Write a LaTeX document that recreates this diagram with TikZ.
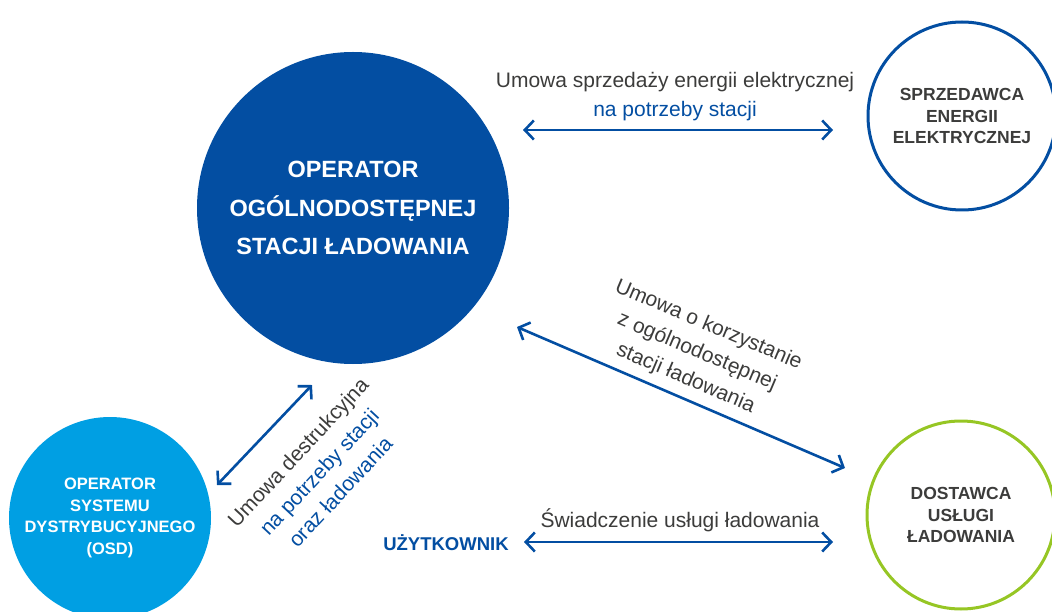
\documentclass[tikz,border=0pt]{standalone}
\usepackage{fontspec}
\setmainfont{Liberation Sans}
\usetikzlibrary{arrows.meta}
\definecolor{dblue}{RGB}{3,78,162}
\definecolor{lblue}{RGB}{0,159,227}
\definecolor{lgreen}{RGB}{150,198,36}
\definecolor{tgray}{RGB}{60,60,59}
\tikzset{
  >={Straight Barb[length=9pt,width=19pt]},
  conn/.style={draw=dblue, line width=2.6pt, <->},
  lbl/.style={align=center, text=tgray, inner sep=0pt, font=\fontsize{21}{29}\selectfont},
  bigtxt/.style={align=center, font=\bfseries\fontsize{23.5}{38.5}\selectfont},
  smalltxt/.style={align=center, font=\bfseries\fontsize{16.5}{21.5}\selectfont},
  ringtxt/.style={align=center, font=\bfseries\fontsize{17.5}{21.5}\selectfont},
  ring/.style={circle, inner sep=0pt, line width=3pt, text=tgray, ringtxt},
}
\begin{document}
\begin{tikzpicture}[x=1pt,y=-1pt]
\useasboundingbox (0,0) rectangle (1052,612);
\clip (0,0) rectangle (1052,612);

% circles
\node[circle, fill=dblue, minimum size=312pt, inner sep=0pt, text=white, bigtxt] (osl) at (353,208)
  {OPERATOR\\OGÓLNODOSTĘPNEJ\\STACJI ŁADOWANIA};
\node[ring, draw=dblue, minimum size=188pt] (sprz) at (962,116)
  {SPRZEDAWCA\\ENERGII\\ELEKTRYCZNEJ};
\node[ring, draw=lgreen, minimum size=188pt] (dost) at (961,515)
  {DOSTAWCA\\USŁUGI\\ŁADOWANIA};
\node[circle, fill=lblue, minimum size=202pt, inner sep=0pt, text=white, smalltxt] (osd) at (110,518)
  {OPERATOR\\SYSTEMU\\DYSTRYBUCYJNEGO\\(OSD)};

% user
\node[text=dblue, font=\bfseries\fontsize{18.5}{21}\selectfont, inner sep=0pt] (user) at (446,543) {UŻYTKOWNIK};

% arrow end points
\coordinate (a1) at (523,130);
\coordinate (a2) at (833,130);
\coordinate (b1) at (517,327);
\coordinate (b2) at (845,468);
\coordinate (c1) at (217,485);
\coordinate (c2) at (312,385);
\coordinate (d1) at (524,542);
\coordinate (d2) at (833,542);

\draw[conn] (a1) -- (a2);
\draw[conn] (b1) -- (b2);
\draw[conn] (c1) -- (c2);
\draw[conn] (d1) -- (d2);

% labels
\node[lbl] (t1) at (675,97) {Umowa sprzedaży energii elektrycznej\\\textcolor{dblue}{na potrzeby stacji}};
\node[lbl, rotate=-23] (t2) at (697,352) {Umowa o korzystanie\\z ogólnodostępnej\\stacji ładowania};
\node[lbl, rotate=47] (t3) at (319,472) {Umowa destrukcyjna\\\textcolor{dblue}{na potrzeby stacji}\\\textcolor{dblue}{oraz ładowania}};
\node[lbl] (t4) at (680,520) {Świadczenie usługi ładowania};
\end{tikzpicture}
\end{document}
